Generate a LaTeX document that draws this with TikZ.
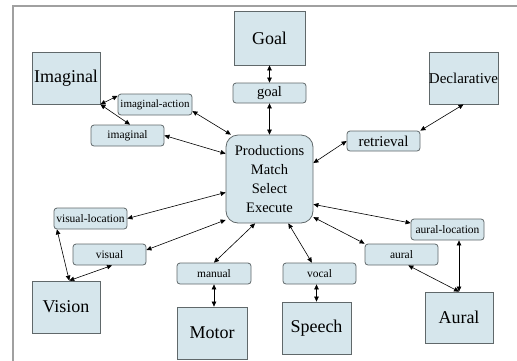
\documentclass[tikz,border=0pt]{standalone}
\usepackage{fontspec}
\setmainfont{Liberation Serif}
\usetikzlibrary{arrows.meta}
\definecolor{boxfill}{RGB}{214,230,236}
\definecolor{boxline}{RGB}{96,104,106}
\definecolor{framegray}{RGB}{160,160,160}
\tikzset{
  bigbox/.style={draw=boxline, line width=0.8pt, fill=boxfill, inner sep=0pt, font=\fontsize{18}{20}\selectfont},
  bufbox/.style={draw=boxline, line width=0.8pt, fill=boxfill, inner sep=0pt, rounded corners=3pt, font=\fontsize{11.5}{13}\selectfont},
  prodbox/.style={draw=boxline, line width=0.8pt, fill=boxfill, inner sep=0pt, rounded corners=12pt, align=center, font=\fontsize{14.5}{19}\selectfont},
  link/.style={line width=0.6pt, {Triangle[length=5pt,width=4.5pt]}-{Triangle[length=5pt,width=4.5pt]}}
}
\begin{document}
\begin{tikzpicture}[x=1pt,y=-1pt]
\useasboundingbox (0,0) rectangle (517,360);
\draw[framegray, line width=1.2pt] (13,362) -- (13,6) -- (519,6);
% big modules
\node[bigbox, minimum width=71pt, minimum height=54pt] (Goal) at (269.5,38) {Goal};
\node[bigbox, minimum width=68pt, minimum height=52pt] (Imaginal) at (66,78) {Imaginal};
\node[bigbox, minimum width=69pt, minimum height=52pt, font=\fontsize{15}{17}\selectfont] (Decl) at (463.5,78) {Declarative};
\node[bigbox, minimum width=68pt, minimum height=52pt] (Vision) at (66,307) {Vision};
\node[bigbox, minimum width=70pt, minimum height=52pt] (Motor) at (212,333) {Motor};
\node[bigbox, minimum width=69pt, minimum height=52pt] (Speech) at (316.5,328) {Speech};
\node[bigbox, minimum width=68pt, minimum height=51pt] (Aural) at (459,317.5) {Aural};
% buffers
\node[bufbox, minimum width=73pt, minimum height=20pt, font=\fontsize{14.5}{16}\selectfont] (goalb) at (269.5,93) {goal};
\node[bufbox, minimum width=74pt, minimum height=21pt, font=\fontsize{11}{13}\selectfont] (iact) at (155,104.5) {imaginal-action};
\node[bufbox, minimum width=73pt, minimum height=21pt] (imag) at (127.5,135.5) {imaginal};
\node[bufbox, minimum width=73pt, minimum height=20pt, font=\fontsize{15}{17}\selectfont] (retr) at (383.5,141) {retrieval};
\node[bufbox, minimum width=73pt, minimum height=21pt] (vloc) at (90.5,218.5) {visual-location};
\node[bufbox, minimum width=73pt, minimum height=21pt] (vis) at (109.5,254.5) {visual};
\node[bufbox, minimum width=74pt, minimum height=21pt] (manual) at (214,273.5) {manual};
\node[bufbox, minimum width=73pt, minimum height=21pt] (vocal) at (319.5,273.5) {vocal};
\node[bufbox, minimum width=73pt, minimum height=21pt] (aloc) at (447.5,229.5) {aural-location};
\node[bufbox, minimum width=73pt, minimum height=21pt] (aural) at (401.5,254.5) {aural};
% productions
\node[prodbox, minimum width=87pt, minimum height=88pt] (prod) at (269.5,179) {Productions\\Match\\Select\\Execute};
% connectors
\draw[link] (Goal.south) -- (goalb.north);
\draw[link] (goalb.south) -- (prod.north);
\draw[link] (prod.20) -- (retr.west);
\draw[link] (retr.north east) -- (Decl.south);
\draw[link] (iact.350) -- (prod.131);
\draw[link] (imag.east) -- (prod.150);
\draw[link] (Imaginal.south east) -- (iact.167);
\draw[link] (Imaginal.south east) -- (imag.77);
\draw[link] (vloc.east) -- (prod.197);
\draw[link] (vis.7) -- (prod.223);
\draw[link] (vloc.198) -- (Vision.83);
\draw[link] (vis.283) -- (Vision.83);
\draw[link] (prod.252) -- (manual.north);
\draw[link] (manual.south) -- (manual.south |- Motor.north);
\draw[link] (prod.293) -- (vocal.125);
\draw[link] (vocal.south -| Speech.north) -- (Speech.north);
\draw[link] (prod.330) -- (aloc.170);
\draw[link] (prod.319) -- (aural.north west);
\draw[link] (aural.302) -- (Aural.north);
\draw[link] (Aural.north |- aloc.south) -- (Aural.north);
\end{tikzpicture}
\end{document}
